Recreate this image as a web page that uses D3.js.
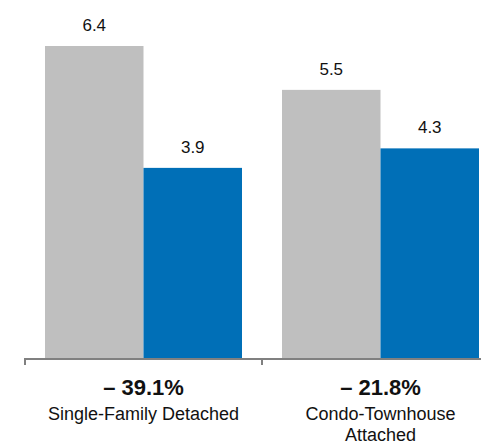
<!DOCTYPE html>
<html>
<head>
<meta charset="utf-8">
<script src="https://cdn.jsdelivr.net/npm/d3@7"></script>
<style>
  html, body { margin: 0; padding: 0; background: #fff; }
  svg { display: block; font-family: "Liberation Sans", Arial, Helvetica, sans-serif; }
</style>
</head>
<body>
<svg id="chart" width="481" height="444"></svg>
<script>
// Categories, series and values
const categories = ["Single-Family Detached", "Condo-Townhouse Attached"];
const categoryLines = [["Single-Family Detached"], ["Condo-Townhouse", "Attached"]];
const series = ["before", "after"];
const valuesBefore = [6.4, 5.5];
const valuesAfter = [3.9, 4.3];
const changeLabels = ["– 39.1%", "– 21.8%"];
const seriesColors = ["#bfbfbf", "#006fb7"];

const rows = categories.map((c, i) => ({
  category: c,
  values: [
    { key: series[0], value: valuesBefore[i] },
    { key: series[1], value: valuesAfter[i] }
  ]
}));

const svg = d3.select("#chart");

const baseY = 358;
const x0 = d3.scaleBand().domain(categories).range([24, 498]).padding(0);
const x1 = d3.scaleBand().domain(series).range([21, 218]).padding(0);
const yMax = d3.max([...valuesBefore, ...valuesAfter]);
const y = d3.scaleLinear().domain([0, yMax]).range([baseY, 46]);
const color = d3.scaleOrdinal().domain(series).range(seriesColors);

// Bars and their value labels
const groups = svg.selectAll("g.cat")
  .data(rows)
  .join("g")
  .attr("class", "cat")
  .attr("transform", d => `translate(${x0(d.category)},0)`);

groups.selectAll("rect")
  .data(d => d.values)
  .join("rect")
  .attr("x", d => x1(d.key))
  .attr("y", d => y(d.value))
  .attr("width", x1.bandwidth())
  .attr("height", d => baseY - y(d.value))
  .attr("fill", d => color(d.key));

groups.selectAll("text.val")
  .data(d => d.values)
  .join("text")
  .attr("class", "val")
  .attr("x", d => x1(d.key) + x1.bandwidth() / 2)
  .attr("y", d => y(d.value) - 15)
  .attr("text-anchor", "middle")
  .attr("font-size", 17)
  .attr("fill", "#111")
  .text(d => d3.format(".1f")(d.value));

// Baseline axis with ticks at the category boundaries
const axis = svg.append("g").attr("stroke", "#808080").attr("stroke-width", 2);
axis.append("line")
  .attr("x1", x0.range()[0]).attr("x2", 481)
  .attr("y1", baseY + 1).attr("y2", baseY + 1);
axis.selectAll("line.tick")
  .data(categories)
  .join("line")
  .attr("class", "tick")
  .attr("x1", d => x0(d) + 1).attr("x2", d => x0(d) + 1)
  .attr("y1", baseY + 1).attr("y2", baseY + 7);

// Percent change and category labels
const labels = svg.selectAll("g.lab")
  .data(rows)
  .join("g")
  .attr("class", "lab")
  .attr("transform", d => `translate(${x0(d.category) + (x1.range()[0] + x1.range()[1]) / 2},0)`);

labels.append("text")
  .attr("y", 395)
  .attr("text-anchor", "middle")
  .attr("font-size", 22)
  .attr("font-weight", "bold")
  .attr("fill", "#111")
  .text((d, i) => changeLabels[i]);

labels.append("text")
  .attr("text-anchor", "middle")
  .attr("font-size", 18)
  .attr("fill", "#111")
  .selectAll("tspan")
  .data((d, i) => categoryLines[i])
  .join("tspan")
  .attr("x", 0)
  .attr("y", (d, j) => 420 + j * 21)
  .text(d => d);
</script>
</body>
</html>
